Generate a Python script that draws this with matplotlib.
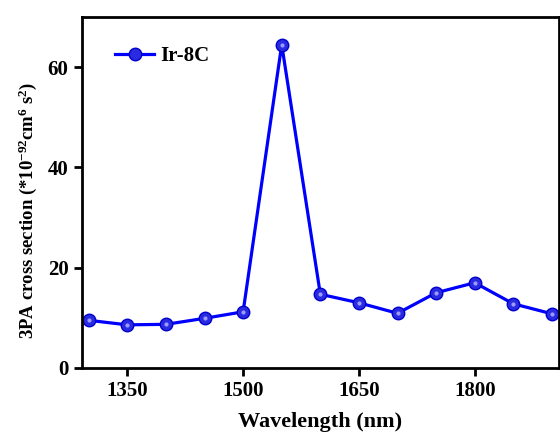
import matplotlib
matplotlib.use("Agg")
import matplotlib.pyplot as plt

wavelength = [1300, 1350, 1400, 1450, 1500, 1550, 1600, 1650, 1700, 1750, 1800, 1850, 1900]
cross_section = [9.5, 8.6, 8.7, 9.9, 11.2, 64.5, 14.7, 13.0, 10.9, 15.0, 17.0, 12.8, 10.8]
xticks = [1350, 1500, 1650, 1800]
yticks = [0, 20, 40, 60]

plt.rcParams["font.family"] = ["Liberation Serif", "DejaVu Serif"]
plt.rcParams["font.weight"] = "bold"
plt.rcParams["mathtext.fontset"] = "custom"
plt.rcParams["mathtext.rm"] = "Liberation Serif:bold"
plt.rcParams["mathtext.bf"] = "Liberation Serif:bold"
plt.rcParams["mathtext.default"] = "bf"

fig = plt.figure(figsize=(5.6, 4.37), dpi=100)
ax = fig.add_axes([0.146, 0.158, 0.852, 0.803])

ax.plot(wavelength, cross_section, color="#0000ff", lw=2.3, marker="o", ms=9,
        markerfacecolor="#2a2ae0", markeredgecolor="#0000cc", label="Ir-8C")
# small highlight for a shaded sphere look
ax.plot(wavelength, cross_section, ls="none", marker="o", ms=3,
        markerfacecolor="#9a9aff", markeredgecolor="none")

ax.set_xlim(1291, 1909)
ax.set_ylim(0, 70)
ax.set_xticks(xticks)
ax.set_yticks(yticks)
ax.tick_params(direction="out", length=6, width=2, labelsize=15)
for lab in ax.get_xticklabels() + ax.get_yticklabels():
    lab.set_fontweight("bold")
for s in ax.spines.values():
    s.set_linewidth(2)

ax.set_xlabel("Wavelength (nm)", fontsize=16, fontweight="bold", labelpad=8)
ax.set_ylabel(r"3PA cross section (*10$^{-92}$cm$^{6}$ s$^{2}$)",
              fontsize=13.5, fontweight="bold", labelpad=6, y=0.45)

leg = ax.legend(loc="upper left", bbox_to_anchor=(0.03, 0.97), frameon=False,
                fontsize=15, handlelength=1.9, handletextpad=0.3)
for t in leg.get_texts():
    t.set_fontweight("bold")

fig.savefig("out.png", dpi=100)
